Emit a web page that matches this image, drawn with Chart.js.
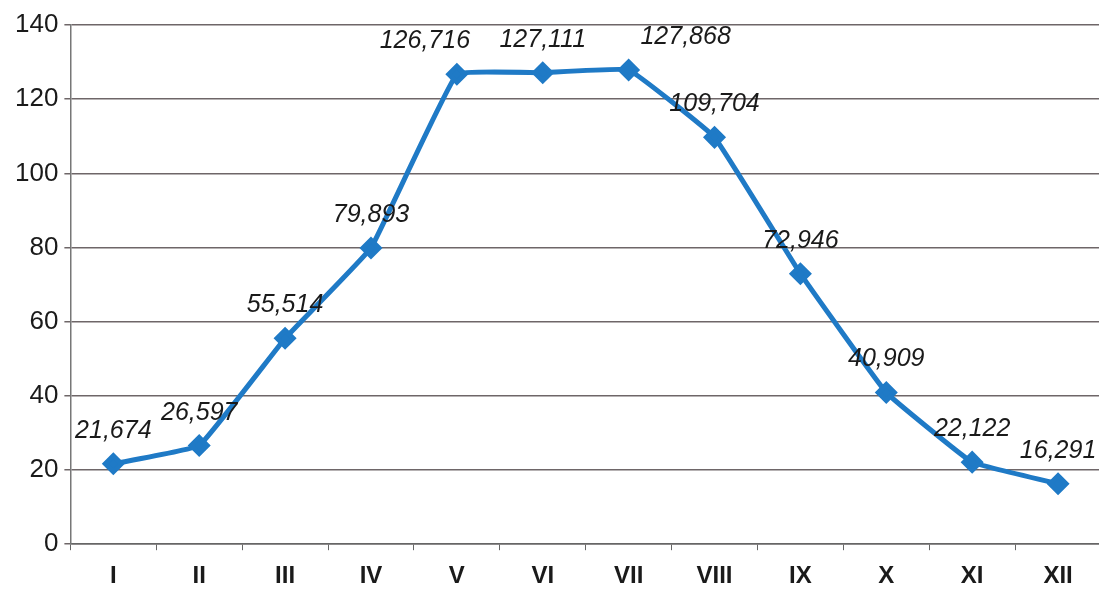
<!DOCTYPE html>
<html>
<head>
<meta charset="utf-8">
<script src="https://cdn.jsdelivr.net/npm/chart.js@4.4.0/dist/chart.umd.min.js"></script>
<style>
  html, body { margin: 0; padding: 0; background: #fff; overflow: hidden; }
  #wrap { width: 1114px; height: 603px; }
</style>
</head>
<body>
<div id="wrap"><canvas id="monthChart"></canvas></div>
<script>
const months = ["I", "II", "III", "IV", "V", "VI", "VII", "VIII", "IX", "X", "XI", "XII"];
const values = [21.674, 26.597, 55.514, 79.893, 126.716, 127.111, 127.868, 109.704, 72.946, 40.909, 22.122, 16.291];
const yTicks = [0, 20, 40, 60, 80, 100, 120, 140];

// small horizontal shifts for a few value labels (px)
const labelShift = [0, 0, 0, 0, -32, 0, 57, 0, 0, 0, 0, 0];

const valueLabels = {
  id: "valueLabels",
  afterDatasetsDraw(chart) {
    const ctx = chart.ctx;
    const meta = chart.getDatasetMeta(0);
    ctx.save();
    ctx.font = "italic 25px 'Liberation Sans', Arial, sans-serif";
    ctx.fillStyle = "#1a1a1a";
    ctx.textAlign = "center";
    ctx.textBaseline = "middle";
    meta.data.forEach((pt, i) => {
      const txt = values[i].toFixed(3).replace(".", ",");
      ctx.fillText(txt, pt.x + labelShift[i], pt.y - 33);
    });
    ctx.restore();
  }
};

const data = {
  labels: months,
  datasets: [
    {
      data: values,
      borderColor: "#1f7ac6",
      backgroundColor: "#1f7ac6",
      borderWidth: 5,
      tension: 0.08,
      pointStyle: "rectRot",
      pointRadius: 8,
      pointHoverRadius: 8,
      fill: false,
    },
  ],
};

const config = {
  type: "line",
  data: data,
  plugins: [valueLabels],
  options: {
    responsive: true,
    maintainAspectRatio: false,
    animation: false,
    layout: { padding: { top: 25, right: -3, left: 9, bottom: 0 } },
    plugins: { legend: { display: false }, tooltip: { enabled: false } },
    scales: {
      x: {
        offset: true,
        grid: {
          display: true,
          offset: true,
          drawOnChartArea: false,
          drawTicks: true,
          tickLength: 6,
          color: "#666",
        },
        border: { color: "#666", width: 1.5 },
        ticks: {
          color: "#1a1a1a",
          padding: 12,
          font: { family: "'Liberation Sans', Arial, sans-serif", size: 24, weight: "bold" },
        },
      },
      y: {
        min: 0,
        max: 140,
        afterBuildTicks(scale) {
          scale.ticks = yTicks.map((v) => ({ value: v }));
        },
        grid: { color: "#6e6668", lineWidth: 1.5, tickLength: 6 },
        border: { color: "#777", width: 1.5 },
        ticks: {
          color: "#1a1a1a",
          padding: 6,
          font: { family: "'Liberation Sans', Arial, sans-serif", size: 26 },
        },
      },
    },
  },
};

const monthChart = new Chart(document.getElementById("monthChart"), config);
</script>
</body>
</html>
